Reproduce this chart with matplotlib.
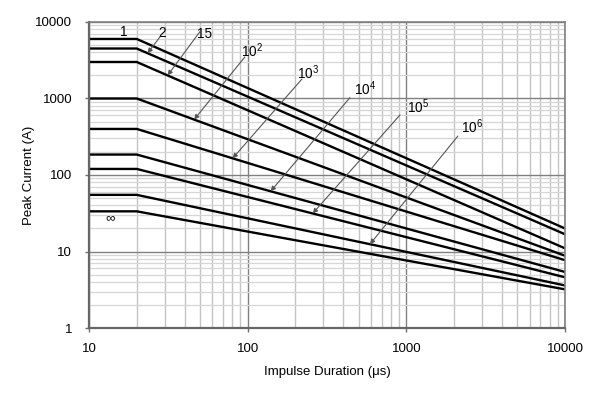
import numpy as np
import matplotlib.pyplot as plt
from matplotlib.ticker import LogLocator, NullFormatter, FixedLocator, FixedFormatter

plt.rcParams['font.family'] = ['Liberation Sans', 'DejaVu Sans']
plt.rcParams['mathtext.default'] = 'regular'

# pulse durations (us): flat up to 20 us, then straight decline in log-log
durations = [10, 20, 10000]
pulse_counts = ['1', '2', '15', '10$^2$', '10$^3$', '10$^4$', '10$^5$', '10$^6$', '\u221e']
start_current = [6000, 4500, 3000, 1000, 400, 185, 120, 55, 33.5]
end_current = [20, 16.8, 11, 8.8, 7.7, 5.4, 4.6, 3.6, 3.2]

x_ticks = [10, 100, 1000, 10000]
y_ticks = [1, 10, 100, 1000, 10000]

# label placement (data coords): text, arrow tail, arrow tip x
label_pos = [(16.6, 7330), (29.1, 7115), (53.6, 6970), (106, 4180), (240, 2155),
             (548, 1331), (1183, 774), (2578, 424), (13.6, 27.4)]
arrow_tail = [None, (28.0, 6368), (50.0, 7470), (96, 3486), (220, 1799),
              (441, 1025), (912, 609), (2113, 323), None]
arrow_tip_x = [None, 23.4, 31.3, 46, 80.4, 139.6, 257, 590, None]


def current_at(i, x):
    ys = [start_current[i], start_current[i], end_current[i]]
    return 10 ** np.interp(np.log10(x), np.log10(durations), np.log10(ys))


fig = plt.figure(figsize=(6.0, 3.94), dpi=100)
ax = fig.add_axes([0.1483, 0.1675, 0.7934, 0.7767])
ax.set_xscale('log')
ax.set_yscale('log')
ax.set_xlim(10, 10000)
ax.set_ylim(1, 10000)

ax.grid(True, which='major', color='#808080', lw=1.0)
ax.xaxis.set_minor_locator(LogLocator(base=10, subs=np.arange(2, 10)))
ax.yaxis.set_minor_locator(LogLocator(base=10, subs=np.arange(2, 10)))
ax.xaxis.set_minor_formatter(NullFormatter())
ax.yaxis.set_minor_formatter(NullFormatter())
ax.grid(True, which='minor', axis='x', color='#c4c4c4', lw=1.0)
ax.grid(True, which='minor', axis='y', color='#d6d6d6', lw=0.9)
ax.set_axisbelow(True)

for i in range(len(start_current)):
    ax.plot(durations, [start_current[i], start_current[i], end_current[i]],
            color='black', lw=1.7, solid_capstyle='butt')

for i, lab in enumerate(pulse_counts):
    ax.text(label_pos[i][0], label_pos[i][1], lab, ha='center', va='center',
            fontsize=9.8 if i < 8 else 9.5)
    if arrow_tail[i] is not None:
        tip = (arrow_tip_x[i], current_at(i, arrow_tip_x[i]))
        ax.annotate('', xy=tip, xytext=arrow_tail[i],
                    arrowprops=dict(arrowstyle='-|>', color='#555555', lw=0.8,
                                    mutation_scale=7, shrinkA=0, shrinkB=0))

ax.xaxis.set_major_locator(FixedLocator(x_ticks))
ax.xaxis.set_major_formatter(FixedFormatter([str(v) for v in x_ticks]))
ax.yaxis.set_major_locator(FixedLocator(y_ticks))
ax.yaxis.set_major_formatter(FixedFormatter([str(v) for v in y_ticks]))
ax.tick_params(which='major', length=3, width=1.0, color='#707070', labelsize=9.5)
ax.tick_params(axis='y', pad=9)
ax.tick_params(axis='x', pad=8)
ax.tick_params(which='minor', length=0)

for s in ax.spines.values():
    s.set_color('#808080')
    s.set_linewidth(1.2)
ax.spines['left'].set_color('#666666')
ax.spines['bottom'].set_color('#666666')
ax.spines['left'].set_linewidth(1.6)
ax.spines['bottom'].set_linewidth(1.6)

ax.set_xlabel('Impulse Duration (\u03bcs)', fontsize=9.5, labelpad=8)
ax.set_ylabel('Peak Current (A)', fontsize=9.5, labelpad=0)

fig.savefig('out.png', dpi=100)
